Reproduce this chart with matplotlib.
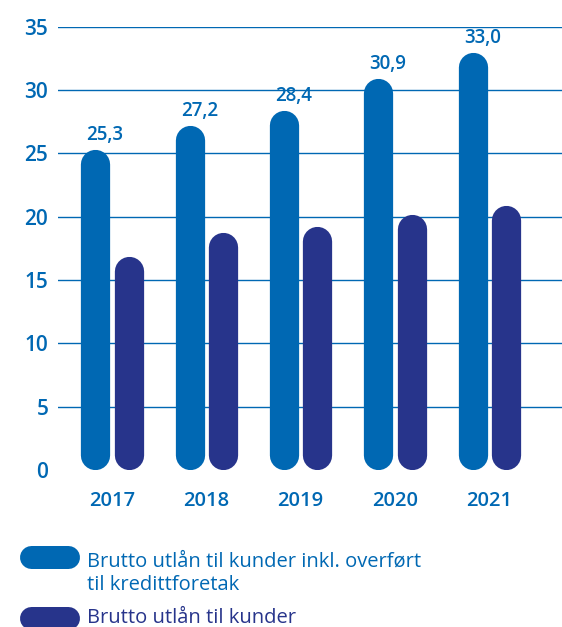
import matplotlib
matplotlib.use("Agg")
import matplotlib.pyplot as plt
from matplotlib.lines import Line2D

years = ["2017", "2018", "2019", "2020", "2021"]
inkl_overfort = [25.3, 27.2, 28.4, 30.9, 33.0]
utlan_kunder = [16.9, 18.8, 19.2, 20.2, 20.9]
yticks = [0, 5, 10, 15, 20, 25, 30, 35]
legend_labels = ["Brutto utlån til kunder inkl. overført\ntil kredittforetak",
                 "Brutto utlån til kunder"]

BLUE = "#0068B3"
NAVY = "#27348B"
FONT = ["Open Sans", "DejaVu Sans"]
plt.rcParams['font.family'] = FONT

W, H = 562, 627
DPI = 100
fig = plt.figure(figsize=(W / DPI, H / DPI), dpi=DPI)
ax = fig.add_axes([58 / W, 1 - 470 / H, 1 - 58 / W, (470 - 26.7) / H])
ax.set_xlim(-0.572, 4.770)
ax.set_ylim(0, 35)

for t in yticks[1:]:
    ax.axhline(t, color=BLUE, lw=1.0, zorder=0)
ax.set_yticks(yticks)
ax.set_yticklabels([str(t) for t in yticks], color=BLUE, fontsize=15, fontweight='semibold')
ax.set_xticks(range(len(years)))
ax.set_xticklabels(years, color=BLUE, fontsize=14.5, fontweight='semibold')
ax.tick_params(axis='both', length=0)
ax.tick_params(axis='y', pad=7)
ax.tick_params(axis='x', pad=15)
for s in ax.spines.values():
    s.set_visible(False)

fig.canvas.draw()
p0 = ax.transData.transform((0, 0))
p1 = ax.transData.transform((1, 1))
px_x = p1[0] - p0[0]
px_y = p1[1] - p0[1]

bw = 0.31          # bar width in x data units
off = 0.177        # offset of each bar from group centre
bw_px = bw * px_x
lw_pt = bw_px * 72 / DPI
ry = (bw_px / 2) / px_y  # cap radius in y data units


def rbar(x, h, color):
    ax.plot([x, x], [ry, h - ry], color=color, lw=lw_pt,
            solid_capstyle='round', zorder=2)


for i, (a, b) in enumerate(zip(inkl_overfort, utlan_kunder)):
    rbar(i - off, a, BLUE)
    rbar(i + off, b, NAVY)
    ax.annotate(f"{a:.1f}".replace(".", ","), (i - off, a), xytext=(7, 3),
                textcoords='offset points', ha='center', va='bottom',
                color=BLUE, fontsize=13.5, fontweight='semibold')

# legend
for lab, col, ytop, base in zip(legend_labels, [BLUE, NAVY], [545, 606], [590, 623]):
    lx0, lx1, lh = 19, 79, 23
    yc = 1 - (ytop + lh / 2) / H
    fig.add_artist(Line2D([(lx0 + lh / 2) / W, (lx1 - lh / 2) / W], [yc, yc],
                          transform=fig.transFigure, color=col,
                          lw=lh * 72 / DPI, solid_capstyle='round'))
    fig.text(87 / W, 1 - base / H, lab, color=col, fontsize=14.5,
             va='baseline', ha='left', linespacing=1.2)

fig.savefig("out.png", dpi=DPI)
